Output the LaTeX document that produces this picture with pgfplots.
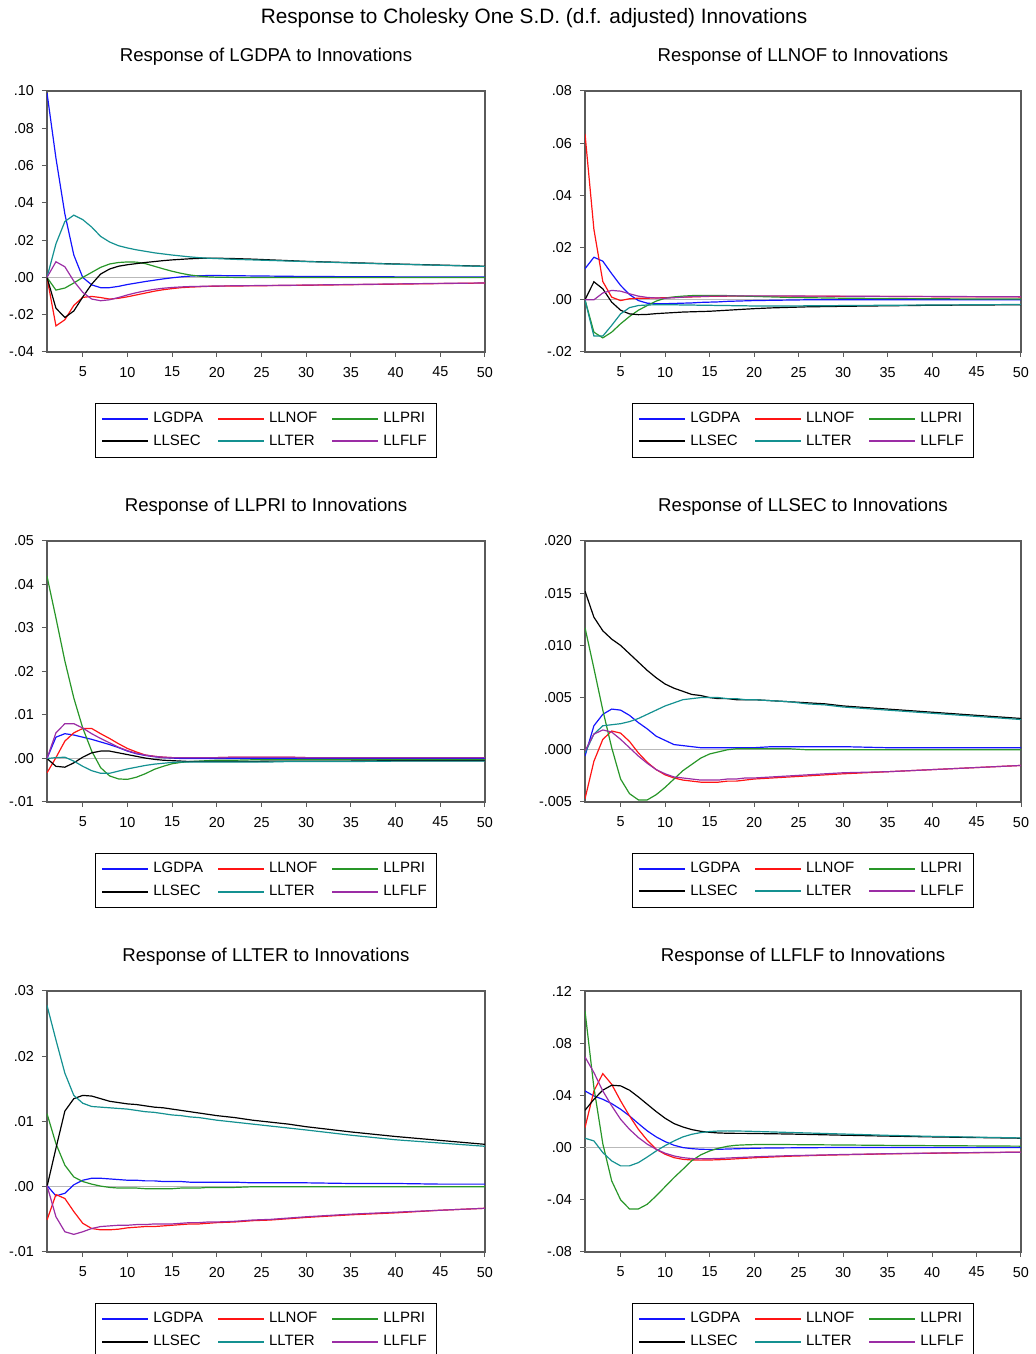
\documentclass[border=0pt]{standalone}
\usepackage{pgfplots}
\usepackage{pgfplotstable}
\pgfplotsset{compat=1.18}
\usepackage{fontspec}
\setmainfont{Liberation Sans}
\definecolor{cblue}{RGB}{20,20,255}
\definecolor{cred}{RGB}{255,20,20}
\definecolor{cgreen}{RGB}{40,150,40}
\definecolor{cteal}{RGB}{20,145,145}
\definecolor{cpurple}{RGB}{155,45,165}
\definecolor{cframe}{RGB}{90,90,90}

% t, LGDPA, LLNOF, LLPRI, LLSEC, LLTER, LLFLF
\pgfplotstableread{
t a b c d e f
1 0.099 0 0 0 0 0
2 0.064 -0.026 -0.0068 -0.0165 0.018 0.0084
3 0.034 -0.0227 -0.0057 -0.0215 0.030 0.0057
4 0.012 -0.015 -0.003 -0.018 0.0334 -0.002
5 0.000 -0.0107 0.0000 -0.0105 0.031 -0.008
6 -0.004 -0.0102 0.0027 -0.0036 0.027 -0.0116
7 -0.0055 -0.0108 0.0054 0.0018 0.022 -0.0125
8 -0.0055 -0.0116 0.0072 0.0045 0.019 -0.012
9 -0.0048 -0.0112 0.008 0.006 0.017 -0.0108
10 -0.0038 -0.0104 0.0083 0.0068 0.0158 -0.0094
11 -0.003 -0.0094 0.0082 0.0074 0.0148 -0.0082
12 -0.0022 -0.0084 0.0074 0.008 0.014 -0.0072
13 -0.0015 -0.0074 0.0060 0.0085 0.0132 -0.0064
14 -0.0008 -0.0066 0.0046 0.009 0.0126 -0.0058
15 -0.0002 -0.006 0.0033 0.0094 0.012 -0.0054
16 0.0003 -0.0055 0.0022 0.0097 0.0115 -0.0051
17 0.0007 -0.0052 0.0013 0.0100 0.011 -0.0049
18 0.0009 -0.005 0.0007 0.0102 0.0106 -0.0048
19 0.001 -0.0048 0.0003 0.0103 0.0103 -0.0047
20 0.001 -0.0047 0.0001 0.0103 0.0101 -0.0046
22 0.0009 -0.0046 0.0 0.0101 0.0097 -0.0045
24 0.0008 -0.0045 0.0 0.0098 0.0094 -0.0044
26 0.0007 -0.0044 0.0 0.0094 0.0091 -0.0043
28 0.0006 -0.0043 0.0 0.009 0.0088 -0.0042
30 0.0005 -0.0042 0.0 0.0086 0.0085 -0.0041
35 0.0004 -0.0039 0.0 0.0079 0.0078 -0.0038
40 0.0003 -0.0036 0.0 0.0072 0.0071 -0.0035
45 0.0002 -0.0033 0.0 0.0066 0.0065 -0.0032
50 0.0002 -0.003 0.0 0.006 0.0059 -0.003
}\tA

\pgfplotstableread{
t a b c d e f
1 0.0119 0.0636 0 0 0 0
2 0.0163 0.027 -0.0124 0.0069 -0.0139 0.0000
3 0.0148 0.007 -0.0146 0.0042 -0.0139 0.0026
4 0.010 0.001 -0.0124 -0.0009 -0.0098 0.0036
5 0.0055 -0.0003 -0.0092 -0.004 -0.0054 0.0033
6 0.002 0.0004 -0.0064 -0.0054 -0.003 0.0023
7 -0.0003 0.0006 -0.004 -0.0057 -0.0022 0.0014
8 -0.0013 0.0006 -0.0022 -0.0056 -0.002 0.0009
9 -0.0015 0.0007 -0.0005 -0.0053 -0.0019 0.0007
10 -0.0015 0.0008 0.0006 -0.0051 -0.0019 0.0006
11 -0.0014 0.0009 0.0011 -0.0049 -0.0019 0.0008
12 -0.0013 0.001 0.0014 -0.0047 -0.002 0.001
13 -0.0012 0.0011 0.0016 -0.0046 -0.002 0.0012
14 -0.001 0.0012 0.0017 -0.0045 -0.0021 0.0013
15 -0.0009 0.0013 0.0017 -0.0044 -0.0021 0.0014
16 -0.0008 0.0013 0.0017 -0.0042 -0.0022 0.0014
17 -0.0006 0.0014 0.0016 -0.0040 -0.0022 0.0015
18 -0.0005 0.0014 0.0015 -0.0038 -0.0023 0.0015
19 -0.0004 0.0014 0.0014 -0.0036 -0.0023 0.0015
20 -0.0003 0.0014 0.0013 -0.0034 -0.0024 0.0015
22 -0.0002 0.0014 0.0011 -0.0031 -0.0024 0.0015
24 -0.0001 0.0014 0.0009 -0.0029 -0.0024 0.0015
26 0.0 0.0014 0.0008 -0.0027 -0.0023 0.0014
28 0.0 0.0014 0.0007 -0.0026 -0.0023 0.0014
30 0.0 0.0013 0.0006 -0.0025 -0.0022 0.0014
35 0.0 0.0013 0.0005 -0.0023 -0.0021 0.0013
40 0.0 0.0012 0.0004 -0.0021 -0.002 0.0013
45 0.0 0.0012 0.0003 -0.002 -0.0019 0.0012
50 0.0 0.0011 0.0003 -0.0019 -0.0018 0.0012
}\tB

\pgfplotstableread{
t a b c d e f
1 0 -0.0033 0.0419 0 0 0
2 0.0049 0.0002 0.0323 -0.0018 0.0002 0.0059
3 0.0057 0.004 0.0224 -0.002 0.0003 0.008
4 0.0054 0.0059 0.0139 -0.001 -0.0006 0.008
5 0.0049 0.0069 0.007 0.0003 -0.0018 0.007
6 0.0044 0.0069 0.0017 0.0013 -0.0028 0.0057
7 0.0038 0.0057 -0.0021 0.0017 -0.0034 0.0046
8 0.0032 0.0046 -0.004 0.0017 -0.0034 0.0036
9 0.0025 0.0034 -0.0047 0.0013 -0.0029 0.0026
10 0.0017 0.0023 -0.0048 0.0009 -0.0024 0.0018
11 0.0011 0.0015 -0.0043 0.0005 -0.002 0.0012
12 0.0007 0.0008 -0.0035 0.0001 -0.0016 0.0008
13 0.0004 0.0005 -0.0025 -0.0002 -0.0013 0.0005
14 0.0002 0.0003 -0.0018 -0.0004 -0.0011 0.0003
15 0.0001 0.0002 -0.0012 -0.0005 -0.0009 0.0002
16 0.0 0.0002 -0.0009 -0.0006 -0.0008 0.0002
17 0.0 0.0002 -0.0007 -0.0007 -0.0008 0.0002
18 0.0 0.0002 -0.0006 -0.0007 -0.0008 0.0002
19 0.0 0.0002 -0.0005 -0.0007 -0.0008 0.0002
20 0.0 0.0002 -0.0004 -0.0007 -0.0008 0.0002
22 0.0 0.0003 -0.0004 -0.0007 -0.0008 0.0003
24 0.0 0.0003 -0.0003 -0.0007 -0.0008 0.0003
26 0.0 0.0003 -0.0003 -0.0006 -0.0008 0.0003
28 0.0 0.0003 -0.0003 -0.0006 -0.0007 0.0003
30 0.0 0.0002 -0.0003 -0.0006 -0.0007 0.0002
35 0.0 0.0002 -0.0003 -0.0006 -0.0007 0.0002
40 0.0 0.0002 -0.0003 -0.0005 -0.0006 0.0002
45 0.0 0.0002 -0.0003 -0.0005 -0.0006 0.0002
50 0.0 0.0002 -0.0003 -0.0005 -0.0006 0.0002
}\tC

\pgfplotstableread{
t a b c d e f
1 -0.0006 -0.0047 0.0117 0.0152 -0.0003 -0.0001
2 0.0023 -0.0011 0.0078 0.0127 0.0015 0.0015
3 0.0034 0.001 0.0038 0.0114 0.0023 0.0019
4 0.0039 0.0018 0.0002 0.0106 0.0024 0.0017
5 0.0038 0.0016 -0.0028 0.0100 0.0025 0.001
6 0.0033 0.0008 -0.0042 0.0092 0.0027 0.0002
7 0.0026 -0.0003 -0.0048 0.0084 0.003 -0.0006
8 0.002 -0.0012 -0.0048 0.0076 0.0034 -0.0013
9 0.0013 -0.0019 -0.0043 0.0069 0.0038 -0.0019
10 0.0009 -0.0024 -0.0036 0.0063 0.0042 -0.0023
11 0.0005 -0.0027 -0.0028 0.0059 0.0045 -0.0026
12 0.0004 -0.0029 -0.002 0.0056 0.0048 -0.0027
13 0.0003 -0.003 -0.0014 0.0053 0.0049 -0.0028
14 0.0002 -0.0031 -0.0008 0.0052 0.005 -0.0029
15 0.0002 -0.0031 -0.0004 0.005 0.005 -0.0029
16 0.0002 -0.0031 -0.0002 0.0049 0.005 -0.0029
17 0.0002 -0.003 0.0 0.0049 0.0049 -0.0028
18 0.0002 -0.003 0.0001 0.0048 0.0049 -0.0028
19 0.0002 -0.0029 0.0001 0.0048 0.0048 -0.0027
20 0.0002 -0.0028 0.0001 0.0048 0.0048 -0.0027
22 0.0003 -0.0027 0.0001 0.0047 0.0047 -0.0026
24 0.0003 -0.0026 0.0001 0.0046 0.0046 -0.0025
26 0.0003 -0.0025 0.0 0.0045 0.0044 -0.0024
28 0.0003 -0.0024 0.0 0.0044 0.0043 -0.0023
30 0.0003 -0.0023 0.0 0.0042 0.0041 -0.0022
35 0.0002 -0.0021 0.0 0.0039 0.0038 -0.0021
40 0.0002 -0.0019 0.0 0.0036 0.0035 -0.0019
45 0.0002 -0.0017 0.0 0.0033 0.0032 -0.0017
50 0.0002 -0.0015 0.0 0.003 0.0029 -0.0015
}\tD

\pgfplotstableread{
t a b c d e f
1 0.0002 -0.0051 0.0112 0 0.0278 0.0002
2 -0.0014 -0.0012 0.0066 0.0059 0.0225 -0.0046
3 -0.001 -0.0018 0.0033 0.0116 0.0174 -0.0069
4 0.0003 -0.0038 0.0015 0.0135 0.014 -0.0073
5 0.001 -0.0056 0.0008 0.014 0.0128 -0.0069
6 0.0013 -0.0064 0.0004 0.0139 0.0123 -0.0064
7 0.0013 -0.0066 0.0001 0.0135 0.0122 -0.0061
8 0.0012 -0.0066 -0.0001 0.0131 0.0121 -0.006
9 0.0011 -0.0065 -0.0002 0.0129 0.012 -0.0059
10 0.001 -0.0063 -0.0002 0.0127 0.0119 -0.0059
11 0.001 -0.0062 -0.0002 0.0126 0.0117 -0.0058
12 0.0009 -0.0061 -0.0003 0.0124 0.0115 -0.0058
13 0.0009 -0.0061 -0.0003 0.0122 0.0114 -0.0057
14 0.0008 -0.006 -0.0003 0.0121 0.0112 -0.0057
15 0.0008 -0.0059 -0.0003 0.0119 0.011 -0.0057
16 0.0008 -0.0058 -0.0002 0.0117 0.0109 -0.0056
17 0.0007 -0.0057 -0.0002 0.0115 0.0107 -0.0055
18 0.0007 -0.0057 -0.0002 0.0113 0.0106 -0.0055
19 0.0007 -0.0056 -0.0001 0.0111 0.0104 -0.0054
20 0.0007 -0.0055 -0.0001 0.0109 0.0102 -0.0054
22 0.0007 -0.0054 -0.0001 0.0106 0.0099 -0.0053
24 0.0006 -0.0052 0.0 0.0102 0.0096 -0.0051
26 0.0006 -0.0051 0.0 0.0099 0.0093 -0.005
28 0.0006 -0.0049 0.0 0.0096 0.009 -0.0048
30 0.0006 -0.0047 0.0 0.0092 0.0087 -0.0046
35 0.0005 -0.0043 0.0 0.0084 0.0079 -0.0042
40 0.0005 -0.004 0.0 0.0077 0.0072 -0.0039
45 0.0004 -0.0036 0.0 0.0071 0.0067 -0.0036
50 0.0004 -0.0033 0.0 0.0065 0.0062 -0.0033
}\tE

\pgfplotstableread{
t a b c d e f
1 0.0434 0.0153 0.1047 0.0286 0.0072 0.0695
2 0.0396 0.0434 0.046 0.037 0.0051 0.0575
3 0.037 0.0567 0.003 0.044 -0.0038 0.0434
4 0.0337 0.0485 -0.0255 0.0478 -0.0102 0.032
5 0.0294 0.0358 -0.040 0.0473 -0.014 0.0217
6 0.0243 0.0243 -0.047 0.044 -0.014 0.014
7 0.0184 0.014 -0.047 0.0388 -0.0115 0.0077
8 0.0128 0.0056 -0.0434 0.0332 -0.0072 0.0026
9 0.0082 -0.0013 -0.037 0.0276 -0.0026 -0.0013
10 0.0046 -0.0051 -0.030 0.0225 0.0015 -0.0043
11 0.0018 -0.0077 -0.023 0.0184 0.0051 -0.0064
12 0.0 -0.009 -0.0166 0.0158 0.0082 -0.0077
13 -0.0008 -0.0095 -0.010 0.0138 0.0102 -0.0084
14 -0.0013 -0.0096 -0.0056 0.0125 0.0115 -0.0086
15 -0.0014 -0.0095 -0.0026 0.0117 0.0123 -0.0085
16 -0.0013 -0.0093 -0.0005 0.0112 0.0127 -0.0083
17 -0.0011 -0.009 0.001 0.011 0.0128 -0.008
18 -0.0009 -0.0086 0.0018 0.0109 0.0127 -0.0077
19 -0.0007 -0.0082 0.0021 0.0109 0.0126 -0.0074
20 -0.0005 -0.0078 0.0023 0.0108 0.0124 -0.0071
22 -0.0003 -0.0072 0.0024 0.0106 0.012 -0.0066
24 -0.0002 -0.0066 0.0023 0.0104 0.0116 -0.0062
26 -0.0001 -0.0062 0.0022 0.0101 0.0112 -0.0059
28 0.0 -0.0058 0.0021 0.0098 0.0108 -0.0056
30 0.0 -0.0055 0.002 0.0095 0.0104 -0.0053
35 0.0 -0.0048 0.0017 0.0088 0.0094 -0.0047
40 0.0 -0.0043 0.0015 0.0082 0.0086 -0.0042
45 0.0 -0.0039 0.0013 0.0077 0.008 -0.0038
50 0.0 -0.0035 0.0011 0.0072 0.0074 -0.0035
}\tF

\pgfplotsset{
  irf/.style={
    scale only axis, width=219pt, height=130.5pt,
    anchor=south west,
    xmin=1, xmax=50, xtick={5,10,...,50},
    scaled y ticks=false,
    axis line style={draw=cframe, line width=0.7pt},
    tick style={draw=cframe, line width=0.5pt},
    tick align=outside, major tick length=2.5pt,
    xtick pos=bottom, ytick pos=left,
    ticklabel style={font=\fontsize{7.2}{8}\selectfont},
    /pgf/number format/assume math mode=true,
    xticklabel style={yshift=-1.5pt},
    yticklabel style={xshift=-0.5pt},
    legend columns=3,
    legend cell align=left,
    legend style={at={(0.5,-0.195)}, anchor=north,
      font=\fontsize{7.5}{8.5}\selectfont, inner xsep=3pt, inner ysep=2.5pt,
      /tikz/every even column/.append style={column sep=5pt}, /tikz/row sep=0.5pt},
    legend image code/.code={\draw[##1, line width=1pt] (0pt,0pt) -- (23pt,0pt);},
    every axis plot/.append style={line width=0.6pt},
  },
}

\newcommand{\irfplots}[1]{%
  \addplot[gray!55, line width=0.5pt, forget plot] coordinates {(1,0) (50,0)};
  \addplot[color=cblue] table[x=t,y=a] {#1};
  \addlegendentry{LGDPA}
  \addplot[color=cred] table[x=t,y=b] {#1};
  \addlegendentry{LLNOF}
  \addplot[color=cgreen] table[x=t,y=c] {#1};
  \addlegendentry{LLPRI}
  \addplot[color=black] table[x=t,y=d] {#1};
  \addlegendentry{LLSEC}
  \addplot[color=cteal] table[x=t,y=e] {#1};
  \addlegendentry{LLTER}
  \addplot[color=cpurple] table[x=t,y=f] {#1};
  \addlegendentry{LLFLF}
}

\begin{document}
\begin{tikzpicture}
\path[use as bounding box] (0,0) rectangle (518pt,677pt);
\node[font=\fontsize{10.4}{12}\selectfont] at (267pt,668pt) {Response to Cholesky One S.D. (d.f. adjusted) Innovations};
\node[font=\fontsize{9.3}{11}\selectfont] at (133pt,648.5pt) {Response of LGDPA to Innovations};
\node[font=\fontsize{9.3}{11}\selectfont] at (401.5pt,648.5pt) {Response of LLNOF to Innovations};
\node[font=\fontsize{9.3}{11}\selectfont] at (133pt,423.5pt) {Response of LLPRI to Innovations};
\node[font=\fontsize{9.3}{11}\selectfont] at (401.5pt,423.5pt) {Response of LLSEC to Innovations};
\node[font=\fontsize{9.3}{11}\selectfont] at (133pt,198.5pt) {Response of LLTER to Innovations};
\node[font=\fontsize{9.3}{11}\selectfont] at (401.5pt,198.5pt) {Response of LLFLF to Innovations};

\begin{axis}[irf, at={(23.5pt,501pt)},
  ymin=-0.04, ymax=0.10, ytick={-0.04,-0.02,0,0.02,0.04,0.06,0.08,0.10},
  yticklabels={-.04,-.02,.00,.02,.04,.06,.08,.10}]
\irfplots{\tA}
\end{axis}

\begin{axis}[irf, width=218pt, at={(292.5pt,501pt)},
  ymin=-0.02, ymax=0.08, ytick={-0.02,0,0.02,0.04,0.06,0.08},
  yticklabels={-.02,.00,.02,.04,.06,.08}]
\irfplots{\tB}
\end{axis}

\begin{axis}[irf, at={(23.5pt,276pt)},
  ymin=-0.01, ymax=0.05, ytick={-0.01,0,0.01,0.02,0.03,0.04,0.05},
  yticklabels={-.01,.00,.01,.02,.03,.04,.05}]
\irfplots{\tC}
\end{axis}

\begin{axis}[irf, width=218pt, at={(292.5pt,276pt)},
  ymin=-0.005, ymax=0.020, ytick={-0.005,0,0.005,0.010,0.015,0.020},
  yticklabels={-.005,.000,.005,.010,.015,.020}]
\irfplots{\tD}
\end{axis}

\begin{axis}[irf, at={(23.5pt,51pt)},
  ymin=-0.01, ymax=0.03, ytick={-0.01,0,0.01,0.02,0.03},
  yticklabels={-.01,.00,.01,.02,.03}]
\irfplots{\tE}
\end{axis}

\begin{axis}[irf, width=218pt, at={(292.5pt,51pt)},
  ymin=-0.08, ymax=0.12, ytick={-0.08,-0.04,0,0.04,0.08,0.12},
  yticklabels={-.08,-.04,.00,.04,.08,.12}]
\irfplots{\tF}
\end{axis}
\end{tikzpicture}
\end{document}
